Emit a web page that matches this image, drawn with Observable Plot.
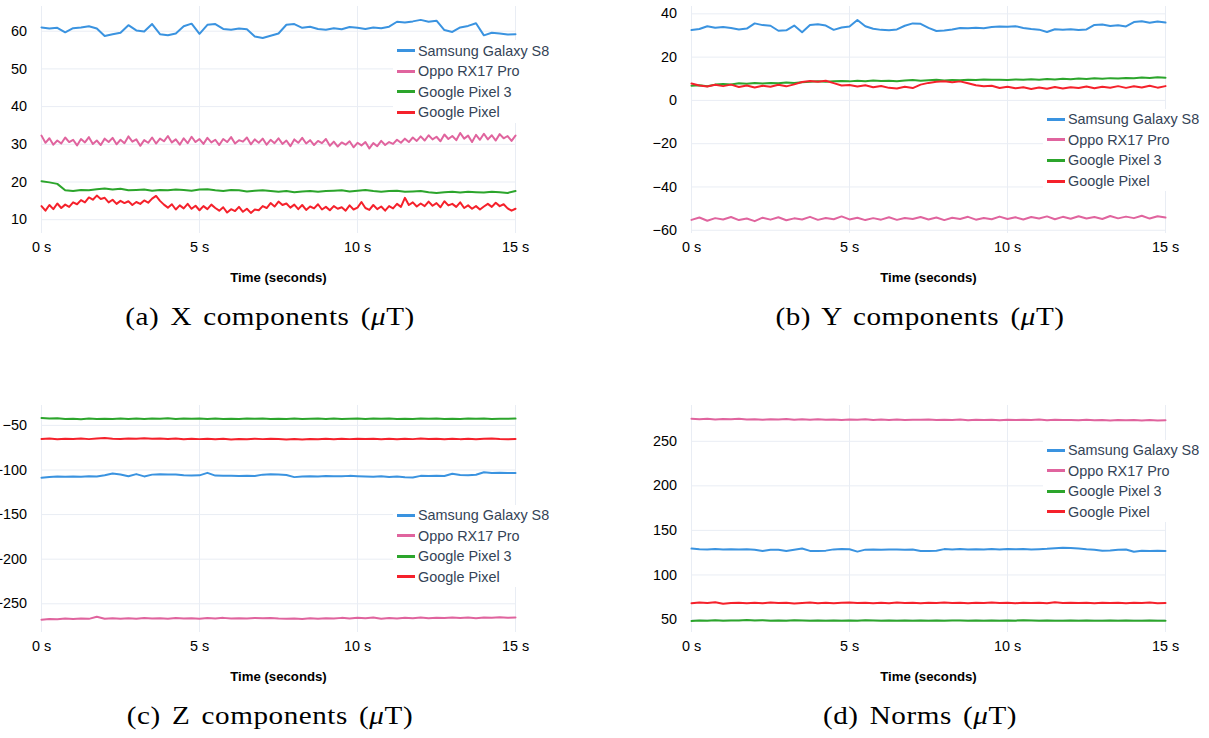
<!DOCTYPE html>
<html>
<head>
<meta charset="utf-8">
<script src="https://cdn.jsdelivr.net/npm/d3@7"></script>
<script src="https://cdn.jsdelivr.net/npm/@observablehq/plot@0.6"></script>
<style>
  body { margin: 0; background: #fff; }
  #root { position: relative; width: 1209px; height: 738px; overflow: hidden; background: #fff; font-family: "Liberation Sans", Arial, sans-serif; }
  .panel { position: absolute; }
  .panel svg { display: block; }
  .legend { position: absolute; background: #fff; padding: 0 4px 0 4px; }
  .legend .row { display: flex; align-items: center; height: 20.6px; font-size: 14.4px; color: #344356; white-space: nowrap; }
  .legend .sw { width: 18px; height: 3px; margin-right: 3px; flex: none; }
  .caption { position: absolute; width: 540px; text-align: center; font-family: "Liberation Serif", "Times New Roman", serif; font-size: 26px; letter-spacing: 0.5px; word-spacing: 3px; color: #000; line-height: 30px; transform: scaleX(1.12); transform-origin: 50% 50%; }
</style>
</head>
<body>
<div id="root"></div>
<script>
// ---- data ----
const seriesNames = ["Samsung Galaxy S8", "Oppo RX17 Pro", "Google Pixel 3", "Google Pixel"];
const seriesColors = ["#3a93e0", "#e0649e", "#2ca52c", "#f5212b"];
const timeTicks = [0, 5, 10, 15];
// sample times (s): quarter-second grid and eighth-second grid
const times = [0,0.25,0.5,0.75,1,1.25,1.5,1.75,2,2.25,2.5,2.75,3,3.25,3.5,3.75,4,4.25,4.5,4.75,5,5.25,5.5,5.75,6,6.25,6.5,6.75,7,7.25,7.5,7.75,8,8.25,8.5,8.75,9,9.25,9.5,9.75,10,10.25,10.5,10.75,11,11.25,11.5,11.75,12,12.25,12.5,12.75,13,13.25,13.5,13.75,14,14.25,14.5,14.75,15];
const timesFine = [0,0.125,0.25,0.375,0.5,0.625,0.75,0.875,1,1.125,1.25,1.375,1.5,1.625,1.75,1.875,2,2.125,2.25,2.375,2.5,2.625,2.75,2.875,3,3.125,3.25,3.375,3.5,3.625,3.75,3.875,4,4.125,4.25,4.375,4.5,4.625,4.75,4.875,5,5.125,5.25,5.375,5.5,5.625,5.75,5.875,6,6.125,6.25,6.375,6.5,6.625,6.75,6.875,7,7.125,7.25,7.375,7.5,7.625,7.75,7.875,8,8.125,8.25,8.375,8.5,8.625,8.75,8.875,9,9.125,9.25,9.375,9.5,9.625,9.75,9.875,10,10.125,10.25,10.375,10.5,10.625,10.75,10.875,11,11.125,11.25,11.375,11.5,11.625,11.75,11.875,12,12.125,12.25,12.375,12.5,12.625,12.75,12.875,13,13.125,13.25,13.375,13.5,13.625,13.75,13.875,14,14.125,14.25,14.375,14.5,14.625,14.75,14.875,15];

// X components (µT)
const samsungX = [61.0,60.7,60.9,59.7,60.8,61.0,61.3,60.7,58.7,59.2,59.6,61.6,60.2,59.9,61.9,59.2,58.9,59.4,61.3,62.0,59.3,61.7,61.9,60.6,60.4,60.7,60.5,58.6,58.2,58.8,59.4,61.7,61.9,60.9,61.2,60.6,60.4,60.8,60.5,61.1,60.9,60.6,61.0,60.8,61.2,62.5,62.3,62.6,63.0,62.5,62.8,60.3,59.8,61.0,61.4,62.1,58.9,59.6,59.4,59.1,59.2];
const oppoX = [32.3,30.4,31.6,29.9,31.0,30.2,31.8,30.6,31.2, 29.7,31.4,30.5,31.9,30.1,31.0,29.8,31.5, 30.6,31.7,30.0,31.2,30.3,32.1,30.7,31.3, 29.6,31.1,30.4,31.8,30.2,31.5,30.8,32.2, 30.5,31.3,29.9,31.6,30.3,32.0,30.6,31.4, 30.1,31.7,30.5,31.2,29.8,31.4,30.6,31.9, 30.2,31.1,30.7,31.8,30.0,31.3,30.4,31.5, 29.9,31.2,30.3,31.6,30.1,31.0,29.5,31.3, 30.4,31.7,30.2,31.1,29.8,30.9,30.3,31.4, 29.6,30.7,29.4,30.5,29.9,30.8,29.2,30.4, 29.7,30.6,28.9,30.3,29.5,30.9,29.8,30.6, 30.1,31.2,30.4,31.5,30.6,31.8,30.9,32.1, 31.0,32.4,31.3,32.0,30.8,32.6,31.4,32.2, 31.1,33.0,31.5,32.3,30.6,32.5,31.2,32.8, 31.3,32.4,31.0,32.7,31.6,32.2,30.9,32.3];
const pixel3X = [20.2,19.9,19.5,17.8,17.6,17.9,17.8,18.1,18.3,18.0,18.2,17.8,17.9,18.0,17.7,17.9,17.8,18.0,17.9,17.7,18.0,18.1,17.8,17.6,17.9,17.8,17.5,17.7,17.8,17.6,17.4,17.6,17.3,17.5,17.6,17.4,17.6,17.7,17.8,17.5,17.7,17.9,17.6,17.4,17.6,17.7,17.4,17.5,17.6,17.3,17.1,17.3,17.4,17.2,17.4,17.3,17.2,17.4,17.3,17.1,17.6];
const pixelX = [13.6,12.4,13.9,12.8,14.3,13.1,14.0,13.4,14.6, 14.1,15.2,14.6,15.9,15.3,16.4,15.5,15.8, 14.6,15.3,14.2,15.0,14.4,14.9,13.9,14.7, 14.2,15.1,14.5,15.6,16.3,15.0,14.0,13.2, 14.1,12.7,13.8,13.0,14.2,12.9,13.7,12.5, 13.6,12.8,14.0,13.1,12.4,13.3,11.9,12.8, 12.3,13.4,12.1,12.9,11.8,12.7,12.5,13.6, 13.1,14.4,13.5,14.8,13.9,14.3,13.2,14.0, 12.8,13.9,12.6,13.5,13.0,14.1,12.7,13.4, 12.5,13.6,12.9,13.3,12.4,13.8,12.7,13.2, 14.7,13.1,12.6,13.9,12.8,13.5,12.4,13.6, 13.0,14.2,13.4,15.8,13.9,14.6,13.5,14.3, 13.6,14.8,13.7,14.4,13.3,14.9,13.8,14.2, 13.4,14.6,13.1,13.8,12.9,13.6,12.7,13.5, 14.2,13.4,14.5,13.6,14.1,13.0,12.4,12.9];

// Y components (µT)
const samsungY = [32.5,33.0,34.3,33.6,33.9,33.5,32.8,33.2,35.6,34.8,34.5,32.2,32.4,34.6,31.5,34.8,35.2,34.6,32.6,33.7,34.2,37.2,34.3,33.1,32.6,32.4,32.8,34.5,35.6,35.4,33.5,32.1,32.3,32.8,33.5,33.3,33.6,33.4,33.9,34.2,34.0,34.3,33.5,33.0,32.7,31.6,32.9,32.6,32.9,32.5,32.8,34.9,35.1,34.4,34.7,34.2,36.2,36.6,35.9,36.5,36.0];
const oppoY = [-55.2,-54.1,-55.6,-54.4,-55.0,-53.9,-55.3,-54.6,-55.8,-54.2,-55.1,-54.0,-55.4,-54.5,-55.0,-53.8,-55.2,-54.3,-54.9,-53.6,-55.0,-54.2,-55.3,-54.4,-55.1,-54.0,-55.2,-54.3,-54.8,-53.9,-55.0,-54.1,-55.3,-54.2,-54.8,-53.8,-55.1,-54.3,-54.9,-53.7,-54.8,-54.0,-55.0,-53.9,-54.6,-53.6,-54.9,-53.8,-54.7,-53.5,-54.6,-53.9,-54.8,-53.4,-54.5,-53.7,-54.4,-53.3,-54.6,-53.5,-54.1];
const pixel3Y = [6.8,7.0,6.5,7.3,7.6,7.4,7.9,7.7,8.0,7.8,8.1,7.9,8.3,8.0,8.4,8.6,8.9,8.6,8.8,9.0,8.8,9.1,8.9,9.2,9.0,9.1,8.9,9.2,9.4,9.1,9.3,9.5,9.2,9.4,9.3,9.6,9.4,9.7,9.5,9.6,9.4,9.7,9.5,9.8,9.6,9.9,9.7,10.0,9.8,10.1,9.9,10.2,10.0,10.3,10.1,10.4,10.2,10.6,10.4,10.7,10.5];
const pixelY = [7.8,6.9,6.4,7.2,6.6,7.3,6.2,6.9,6.0,6.8,6.3,7.2,6.5,7.4,8.5,9.0,8.6,9.1,8.0,6.9,7.1,6.4,7.0,6.1,6.7,5.8,5.5,6.3,5.7,7.3,8.1,8.6,8.9,8.4,8.8,7.9,7.0,6.6,6.8,5.7,6.3,5.6,6.1,5.3,6.0,5.4,6.2,5.5,6.1,5.7,6.4,5.6,6.3,5.9,6.6,5.8,6.5,6.0,6.8,5.9,6.6];

// Z components (µT)
const samsungZ = [-108.6,-107.8,-107.3,-107.6,-107.2,-107.5,-107.0,-107.3,-105.8,-104.0,-105.0,-107.0,-104.6,-107.2,-105.2,-104.8,-105.1,-105.0,-106.0,-106.2,-106.0,-103.2,-106.3,-106.6,-106.4,-106.8,-106.5,-106.7,-105.2,-104.9,-105.0,-105.6,-108.0,-107.4,-107.0,-107.3,-106.8,-107.1,-107.0,-106.6,-106.9,-107.2,-107.5,-107.0,-107.8,-107.4,-108.2,-108.4,-106.6,-106.8,-106.5,-106.7,-104.2,-105.5,-105.8,-105.4,-102.6,-103.4,-103.2,-103.5,-103.3];
const oppoZ = [-267.8,-267.0,-267.4,-266.6,-267.1,-266.4,-266.9,-264.5,-266.8,-266.3,-266.9,-266.2,-266.7,-266.0,-266.6,-266.2,-266.8,-265.9,-266.5,-266.1,-266.7,-266.0,-266.4,-265.8,-266.6,-266.1,-266.5,-265.9,-266.3,-266.0,-266.6,-266.9,-266.4,-267.0,-266.3,-266.8,-266.1,-266.6,-265.8,-266.4,-265.6,-266.3,-265.4,-266.8,-266.0,-266.5,-265.7,-266.2,-265.5,-266.1,-265.6,-266.0,-265.4,-265.9,-265.5,-266.1,-265.3,-265.8,-265.2,-265.7,-265.4];
const pixel3Z = [-41.8,-42.3,-42.0,-42.9,-42.6,-43.0,-42.4,-42.8,-42.5,-42.9,-42.3,-42.7,-42.2,-42.8,-42.4,-42.6,-42.1,-42.7,-42.3,-42.6,-42.4,-42.8,-42.3,-42.7,-42.5,-42.9,-42.4,-42.6,-42.2,-42.8,-42.5,-42.7,-42.3,-42.9,-42.6,-42.4,-42.8,-42.3,-42.7,-42.5,-42.2,-42.8,-42.4,-42.6,-42.3,-42.7,-42.5,-42.9,-42.4,-42.6,-42.3,-42.8,-42.5,-42.7,-42.4,-42.6,-42.3,-42.8,-42.5,-42.6,-42.4];
const pixelZ = [-65.3,-64.7,-65.5,-64.9,-65.2,-64.6,-65.4,-64.8,-64.2,-64.9,-65.3,-64.6,-65.1,-64.4,-65.0,-64.7,-65.3,-64.8,-65.6,-65.0,-65.4,-64.9,-65.5,-65.1,-65.7,-65.2,-65.6,-65.0,-65.4,-64.9,-65.3,-65.7,-65.2,-65.8,-65.3,-65.6,-65.1,-65.5,-65.0,-65.4,-64.9,-65.3,-65.0,-65.5,-65.1,-65.6,-65.0,-65.4,-64.8,-65.3,-65.0,-65.5,-64.9,-65.4,-65.1,-65.6,-65.0,-64.7,-65.3,-65.5,-65.2];

// Norms (µT)
const samsungN = [129.6,128.9,128.7,129.1,128.6,128.8,128.5,128.9,128.4,126.8,128.3,128.4,126.9,128.2,129.6,127.0,126.8,127.3,128.7,129.1,128.8,126.2,128.4,128.6,128.3,128.7,128.5,128.2,128.6,127.0,126.8,127.2,129.0,128.7,129.1,128.6,128.9,128.5,129.0,128.7,129.2,128.8,129.0,128.6,128.9,129.3,130.0,130.4,130.2,129.6,128.9,128.4,127.1,127.4,128.4,128.6,126.0,127.2,126.9,127.1,126.8];
const oppoN = [275.4,274.8,275.2,274.6,275.1,274.9,275.3,274.5,274.9,274.3,274.8,274.4,275.0,274.2,274.7,274.3,274.9,274.1,274.6,274.0,274.5,274.1,274.7,273.8,274.4,274.0,274.6,273.9,274.3,274.1,274.5,273.8,274.2,274.0,274.4,273.7,274.3,273.9,274.1,273.6,274.3,273.8,274.2,273.9,274.4,273.7,274.1,273.8,274.0,273.6,274.2,273.7,273.9,273.5,274.0,273.6,273.8,273.4,273.9,273.5,273.6];
const pixel3N = [48.3,48.9,48.6,49.1,48.7,49.0,48.8,49.3,48.9,49.2,48.7,49.0,48.6,49.1,48.8,48.5,48.9,48.6,49.0,48.7,48.9,48.6,49.1,48.8,48.5,48.9,48.7,49.0,48.6,48.8,48.5,48.9,48.7,49.0,48.8,48.6,48.9,48.5,48.8,48.6,48.9,48.7,49.1,48.8,48.6,48.9,48.7,48.5,48.8,48.6,48.9,48.7,48.5,48.8,48.6,48.9,48.7,48.5,48.8,48.6,48.7];
const pixelN = [68.2,69.0,68.4,69.3,67.6,68.5,68.9,68.1,68.7,68.3,69.1,68.4,68.8,68.0,68.6,69.2,68.3,68.9,68.2,68.7,69.0,68.4,68.8,68.1,68.7,68.3,69.0,68.5,68.9,68.2,68.7,68.4,69.1,68.6,68.9,68.3,68.8,68.5,69.2,68.4,68.7,68.2,68.9,68.5,68.8,68.3,69.3,68.6,68.9,68.4,68.7,68.2,68.8,68.5,68.9,68.3,68.7,68.4,69.0,68.3,68.6];

// y-axis ticks per panel
const yTicksX = [10, 20, 30, 40, 50, 60];
const yTicksY = [-60, -40, -20, 0, 20, 40];
const yTicksZ = [-250, -200, -150, -100, -50];
const yTicksN = [50, 100, 150, 200, 250];
const captions = ["(a) X components (<i>μ</i>T)", "(b) Y components (<i>μ</i>T)", "(c) Z components (<i>μ</i>T)", "(d) Norms (<i>μ</i>T)"];
const xAxisTitle = "Time (seconds)";

// ---- layout ----
const panels = [
  {left: 0,   top: 0,   width: 600, domain: [6.34, 66.55],   ticks: yTicksX, values: [samsungX, oppoX, pixel3X, pixelX], t: [times, timesFine, times, timesFine], legendTop: 40.4, caption: captions[0]},
  {left: 650, top: 0,   width: 559, domain: [-61.5, 43.4],   ticks: yTicksY, values: [samsungY, oppoY, pixel3Y, pixelY], t: [times, times, times, times], legendTop: 109.0, caption: captions[1]},
  {left: 0,   top: 399, width: 600, domain: [-282.2, -27.7], ticks: yTicksZ, values: [samsungZ, oppoZ, pixel3Z, pixelZ], t: [times, times, times, times], legendTop: 105.8, caption: captions[2]},
  {left: 650, top: 399, width: 559, domain: [35.4, 290.2],   ticks: yTicksN, values: [samsungN, oppoN, pixel3N, pixelN], t: [times, times, times, times], legendTop: 40.8, caption: captions[3]}
];

const root = document.getElementById("root");
const gridColor = "#e9edf4";

panels.forEach(p => {
  const rows = [];
  seriesNames.forEach((name, k) => p.values[k].forEach((v, i) => rows.push({t: p.t[k][i], v, name})));

  const svg = Plot.plot({
    width: p.width,
    height: 290,
    marginLeft: 41,
    marginRight: p.width - 41 - 474,
    marginTop: 6,
    marginBottom: 57,
    style: {fontFamily: "'Liberation Sans', Arial, sans-serif", fontSize: "14.4px", color: "#000", background: "transparent"},
    x: {domain: [0, 15]},
    y: {domain: p.domain},
    color: {domain: seriesNames, range: seriesColors},
    marks: [
      Plot.gridX(timeTicks, {stroke: gridColor, strokeOpacity: 1}),
      Plot.gridY(p.ticks, {stroke: gridColor, strokeOpacity: 1}),
      Plot.axisX(timeTicks, {tickSize: 0, tickPadding: 8, tickFormat: d => `${d} s`, label: null}),
      Plot.axisY(p.ticks, {tickSize: 0, tickPadding: 14.5, label: null}),
      Plot.line(rows, {x: "t", y: "v", z: "name", stroke: "name", strokeWidth: 2}),
      Plot.text([xAxisTitle], {text: d => d, frameAnchor: "bottom", dy: 44, lineAnchor: "middle", fontWeight: "bold", fontSize: 13.2})
    ]
  });

  const panel = document.createElement("div");
  panel.className = "panel";
  panel.style.left = p.left + "px";
  panel.style.top = p.top + "px";
  panel.appendChild(svg);

  const legend = document.createElement("div");
  legend.className = "legend";
  legend.style.left = "393px";
  legend.style.top = p.legendTop + "px";
  seriesNames.forEach((name, k) => {
    const row = document.createElement("div");
    row.className = "row";
    const sw = document.createElement("span");
    sw.className = "sw";
    sw.style.background = seriesColors[k];
    const label = document.createElement("span");
    label.textContent = name;
    row.appendChild(sw);
    row.appendChild(label);
    legend.appendChild(row);
  });
  panel.appendChild(legend);
  root.appendChild(panel);

  const cap = document.createElement("div");
  cap.className = "caption";
  cap.style.left = p.left + "px";
  cap.style.top = (p.top + 302) + "px";
  cap.innerHTML = p.caption;
  root.appendChild(cap);
});
</script>
</body>
</html>
